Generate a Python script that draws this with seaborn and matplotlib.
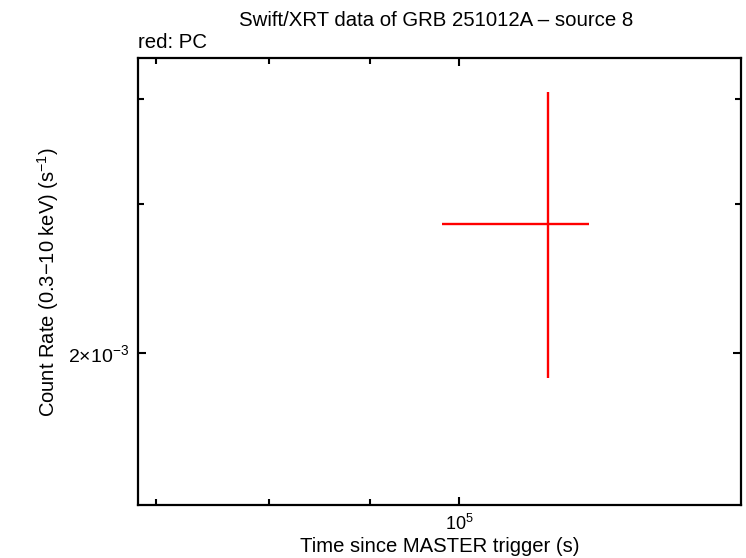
import matplotlib

matplotlib.use("Agg")
import matplotlib.pyplot as plt
import numpy as np
import pandas as pd
import seaborn as sns
from matplotlib.ticker import FixedLocator, FixedFormatter, NullFormatter

# light curve data (PC mode)
time = [1.110e5]
time_lo = [9.795e4]
time_hi = [1.165e5]
rate = [2.840e-3]
rate_lo = [1.866e-3]
rate_hi = [4.079e-3]

x_major = [1e5]
x_major_labels = [r"$10^{5}$"]
x_minor = [7e4, 8e4, 9e4]
y_major = [2e-3]
y_major_labels = [r"$2{\times}10^{-3}$"]
y_minor = [3e-3, 4e-3]

df = pd.DataFrame(
    {
        "time": time,
        "time_lo": time_lo,
        "time_hi": time_hi,
        "rate": rate,
        "rate_lo": rate_lo,
        "rate_hi": rate_hi,
    }
)

sns.set_style("ticks")
plt.rcParams["font.family"] = ["Liberation Sans", "DejaVu Sans"]
plt.rcParams["mathtext.fontset"] = "custom"
plt.rcParams["mathtext.rm"] = "Liberation Sans"
plt.rcParams["mathtext.it"] = "Liberation Sans"
plt.rcParams["mathtext.default"] = "rm"
plt.rcParams["text.color"] = "black"
plt.rcParams["axes.labelcolor"] = "black"

fig = plt.figure(figsize=(7.46, 5.58), dpi=100)
ax = fig.add_axes([0.1854, 0.0941, 0.8079, 0.8019])

xerr = np.array([df["time"] - df["time_lo"], df["time_hi"] - df["time"]])
yerr = np.array([df["rate"] - df["rate_lo"], df["rate_hi"] - df["rate"]])
ax.errorbar(
    df["time"], df["rate"], xerr=xerr, yerr=yerr,
    fmt="none", ecolor="#ff0000", elinewidth=1.7, capsize=0,
)

ax.set_xscale("log")
ax.set_yscale("log")
ax.set_xlim(68590, 139200)
ax.set_ylim(1.317e-3, 4.475e-3)

ax.xaxis.set_major_locator(FixedLocator(x_major))
ax.xaxis.set_major_formatter(FixedFormatter(x_major_labels))
ax.xaxis.set_minor_locator(FixedLocator(x_minor))
ax.xaxis.set_minor_formatter(NullFormatter())
ax.yaxis.set_major_locator(FixedLocator(y_major))
ax.yaxis.set_major_formatter(FixedFormatter(y_major_labels))
ax.yaxis.set_minor_locator(FixedLocator(y_minor))
ax.yaxis.set_minor_formatter(NullFormatter())

ax.tick_params(which="both", direction="in", top=True, right=True,
               width=1.5, colors="black", labelcolor="black", labelsize=13)
ax.tick_params(axis="y", which="major", labelsize=14, pad=7)
ax.tick_params(axis="x", which="major", pad=6)
ax.tick_params(which="major", length=6)
ax.tick_params(which="minor", length=4)
for s in ax.spines.values():
    s.set_linewidth(1.6)
    s.set_color("black")

ax.set_xlabel("Time since MASTER trigger (s)", fontsize=14.6, labelpad=2)
ax.set_ylabel(r"Count Rate (0.3$-$10 keV) (s$^{-1}$)", fontsize=14.5, labelpad=5)
fig.text(0.5851, 0.964, "Swift/XRT data of GRB 251012A \u2013 source 8",
         ha="center", va="center", fontsize=14.7)
fig.text(0.1854, 0.924, "red: PC", ha="left", va="center", fontsize=14.7)

fig.savefig("out.png", dpi=100)
